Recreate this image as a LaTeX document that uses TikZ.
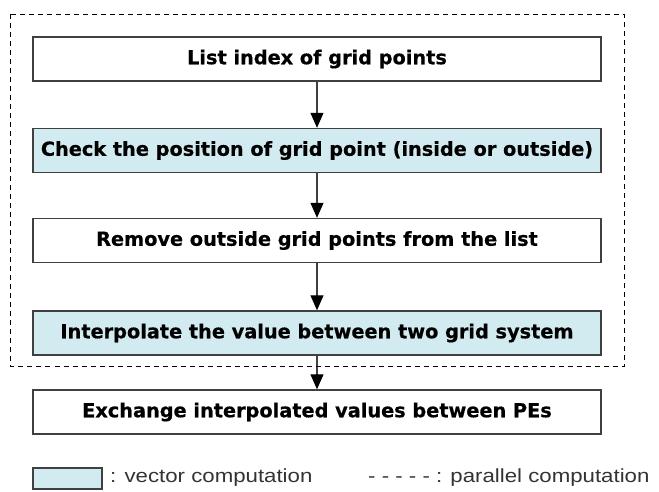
\documentclass[tikz,border=0pt]{standalone}
\usepackage{fontspec}
\setmainfont{DejaVu Sans}
\newfontfamily\boxfont[BoldFeatures={FakeBold=0.5}]{DejaVu Sans}
\newfontfamily\legendfont[FakeStretch=1.17]{Liberation Sans}
\usetikzlibrary{arrows.meta}
\definecolor{vecblue}{HTML}{D2EBF0}
\definecolor{boxline}{HTML}{404040}
\tikzset{
  stepbox/.style={draw=boxline, line width=1.4pt, minimum width=568pt, minimum height=44pt,
    inner sep=0pt, font=\boxfont\bfseries\fontsize{19.3}{21}\selectfont, text=black},
  vecbox/.style={stepbox, fill=vecblue},
  flow/.style={draw=boxline, line width=1.1pt, -{Triangle[length=15pt,width=13pt,color=black]}},
  legendtext/.style={font=\legendfont\fontsize{19}{21}\selectfont, text=black!80, inner sep=0pt, anchor=west}
}
\begin{document}
\begin{tikzpicture}[x=1pt,y=-1pt]
\useasboundingbox (0,0) rectangle (659,491);
\node[stepbox] (b1) at (317,59) {List index of grid points};
\node[vecbox]  (b2) at (317,150.5) {Check the position of grid point (inside or outside)};
\node[stepbox] (b3) at (317,240.5) {Remove outside grid points from the list};
\node[vecbox]  (b4) at (317,333) {Interpolate the value between two grid system};
\node[stepbox] (b5) at (317,412) {Exchange interpolated values between PEs};
\draw[flow] (b1) -- (b2);
\draw[flow] (b2) -- (b3);
\draw[flow] (b3) -- (b4);
\draw[flow] (b4) -- (b5);
\draw[black, line width=0.9pt, dash pattern=on 5pt off 4pt] (10.5,14) rectangle (624,366);
\node[draw=boxline, line width=1.2pt, fill=vecblue, minimum width=69pt, minimum height=21pt, inner sep=0pt] (lg) at (67.5,478.5) {};
\node[legendtext] (lv) at (110,478) {: vector computation};
\node[legendtext] (lp) at (368,478) {- - - - - : parallel computation};
\end{tikzpicture}
\end{document}
